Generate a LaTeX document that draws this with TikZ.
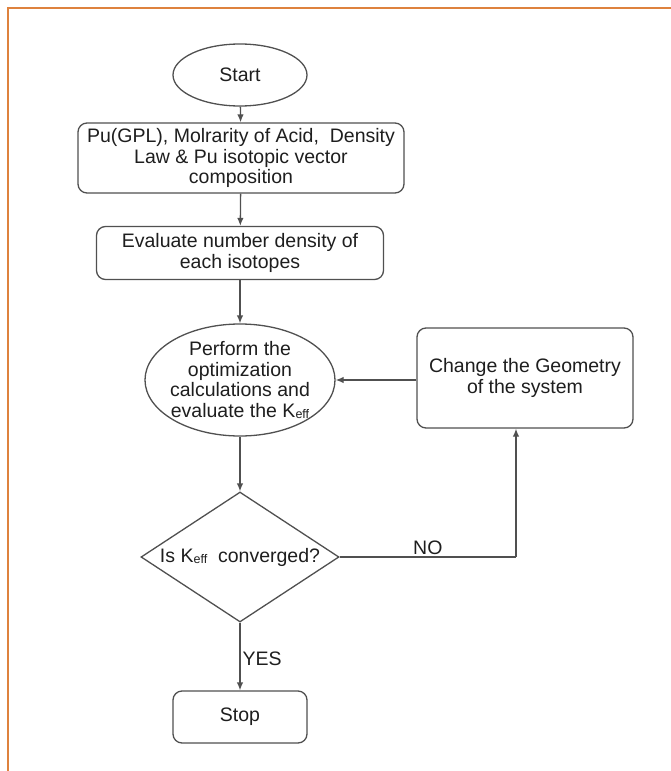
\documentclass[tikz,border=0pt]{standalone}
\usepackage{fontspec}
\setmainfont{Liberation Sans}
\usetikzlibrary{shapes.geometric,arrows.meta,positioning,calc}

\definecolor{frameorange}{RGB}{222,130,62}
\definecolor{linegray}{RGB}{80,80,80}
\definecolor{txtdark}{RGB}{30,30,30}

\newcommand{\keff}{K{\raisebox{-1pt}{\fontsize{12.5}{12.5}\selectfont eff}}}

\tikzset{
  flowline/.style={draw=linegray,line width=1.3pt},
  flowarrow/.style={flowline,-{Latex[length=8pt,width=6.5pt]}},
  roundbox/.style={flowline,rounded corners=9pt,fill=white,align=center,inner sep=2pt},
  oval/.style={flowline,ellipse,fill=white,inner sep=0pt},
  decision/.style={flowline,diamond,fill=white,inner sep=0pt},
  flowtext/.style={text=txtdark,align=center,inner sep=0pt}
}

\begin{document}
\begin{tikzpicture}[x=1pt,y=-1pt,font=\fontsize{19.5}{20.5}\selectfont,text=txtdark]
\useasboundingbox (0,0) rectangle (671,771);
% frame of the figure (top and left edges only)
\draw[frameorange,line width=2pt] (8,771) -- (8,8) -- (671,8);

% Shapes
\node[oval,minimum width=134,minimum height=62] (start) at (240,75) {};
\node[flowtext] (startTxt) at (start) {Start};
\node[roundbox,minimum width=326,minimum height=70] (input) at (241,158)
  {Pu(GPL), Molrarity of Acid,\ \ Density\\ Law \& Pu isotopic vector\\ composition};
\node[roundbox,minimum width=287,minimum height=53] (numdens) at (240,253)
  {Evaluate number density of\\ each isotopes};
\node[oval,minimum width=190,minimum height=112] (optim) at (240,380) {};
\node[flowtext] (optimTxt) at (optim)
  {Perform the\\ optimization\\ calculations and\\ evaluate the \keff};
\node[roundbox,minimum width=216,minimum height=100] (geom) at (525,378)
  {Change the Geometry\\ of the system};
\node[decision,minimum width=198,minimum height=130] (conv) at (240,557) {};
\node[flowtext] (convTxt) at (conv) {Is \keff\ \ converged?};
\node[roundbox,minimum width=134,minimum height=52] (stop) at (240,717) {Stop};
\coordinate (noCorner) at (516,557);

% Connectors
\draw[flowarrow] (start) -- (input);
\draw[flowarrow] (input) -- (numdens);
\draw[flowarrow] (numdens) -- (optim);
\draw[flowarrow] (optim) -- (conv);
\draw[flowarrow] (geom.west |- optim) -- (optim.east);
\draw[flowline] (conv.east) -- node[above,inner sep=2pt]{NO} (noCorner);
\draw[flowarrow] (noCorner) -- (noCorner |- geom.south);
\draw[flowarrow] (conv.south) -- node[right,pos=0.54,inner sep=2pt]{YES} (stop.north);
\end{tikzpicture}
\end{document}
